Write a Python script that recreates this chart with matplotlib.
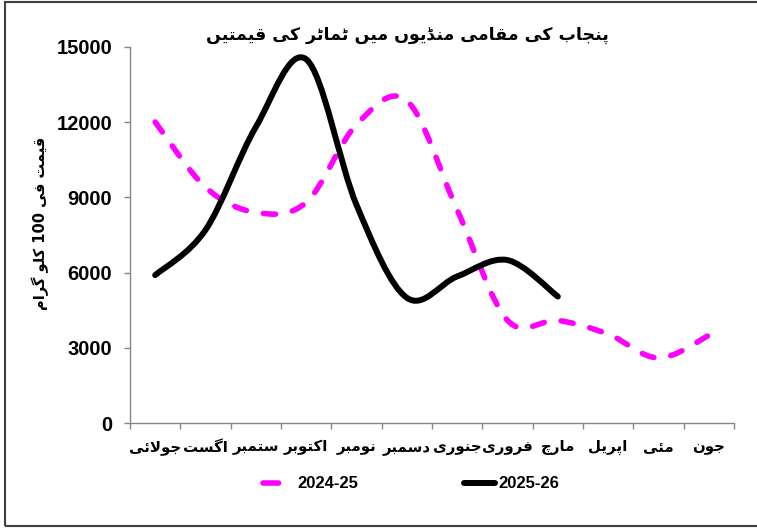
import re
import matplotlib
matplotlib.use("Agg")
import matplotlib.pyplot as plt
from matplotlib.path import Path
from matplotlib.patches import PathPatch, Rectangle
from matplotlib.lines import Line2D

# ---- data -------------------------------------------------------------
title = "پنجاب کی مقامی منڈیوں میں ٹماٹر کی قیمتیں"
y_label = "قیمت فی 100 کلو گرام"
months = ["جولائی", "اگست", "ستمبر", "اکتوبر", "نومبر", "دسمبر",
          "جنوری", "فروری", "مارچ", "اپریل", "مئی", "جون"]
series_names = ["2024-25", "2025-26"]
prices_2024_25 = [12000, 9400, 8400, 8800, 11900, 12850,
                  8500, 4100, 4100, 3550, 2600, 3500]
prices_2025_26 = [5900, 7700, 11800, 14500, 8700, 5000,
                  5850, 6500, 5050]
y_ticks = [0, 3000, 6000, 9000, 12000, 15000]

# ---- minimal Arabic-script shaping (matplotlib has no complex layout) --
FORMS = {  # isolated, final, initial, medial
    "\u0627": ("\uFE8D", "\uFE8E", None, None),
    "\u0628": ("\uFE8F", "\uFE90", "\uFE91", "\uFE92"),
    "\u062A": ("\uFE95", "\uFE96", "\uFE97", "\uFE98"),
    "\u062C": ("\uFE9D", "\uFE9E", "\uFE9F", "\uFEA0"),
    "\u062F": ("\uFEA9", "\uFEAA", None, None),
    "\u0631": ("\uFEAD", "\uFEAE", None, None),
    "\u0633": ("\uFEB1", "\uFEB2", "\uFEB3", "\uFEB4"),
    "\u0641": ("\uFED1", "\uFED2", "\uFED3", "\uFED4"),
    "\u0642": ("\uFED5", "\uFED6", "\uFED7", "\uFED8"),
    "\u0644": ("\uFEDD", "\uFEDE", "\uFEDF", "\uFEE0"),
    "\u0645": ("\uFEE1", "\uFEE2", "\uFEE3", "\uFEE4"),
    "\u0646": ("\uFEE5", "\uFEE6", "\uFEE7", "\uFEE8"),
    "\u0648": ("\uFEED", "\uFEEE", None, None),
    "\u0626": ("\uFE89", "\uFE8A", "\uFE8B", "\uFE8C"),
    "\u067E": ("\uFB56", "\uFB57", "\uFB58", "\uFB59"),
    "\u0679": ("\uFB66", "\uFB67", "\uFB68", "\uFB69"),
    "\u0686": ("\uFB7A", "\uFB7B", "\uFB7C", "\uFB7D"),
    "\u0688": ("\uFB88", "\uFB89", None, None),
    "\u06A9": ("\uFB8E", "\uFB8F", "\uFB90", "\uFB91"),
    "\u06AF": ("\uFB92", "\uFB93", "\uFB94", "\uFB95"),
    "\u06BA": ("\uFB9E", "\uFB9F", "\uFEE7", "\uFEE8"),
    "\u06CC": ("\uFBFC", "\uFBFD", "\uFBFE", "\uFBFF"),
}
LAM, ALEF = "\u0644", "\u0627"


def joins_forward(c):
    return c in FORMS and FORMS[c][2] is not None


def rtl(text):
    out = []
    i, n = 0, len(text)
    while i < n:
        c = text[i]
        if c not in FORMS:
            out.append(c)
            i += 1
            continue
        prev_joins = i > 0 and joins_forward(text[i - 1])
        if c == LAM and i + 1 < n and text[i + 1] == ALEF:
            out.append("\uFEFC" if prev_joins else "\uFEFB")
            i += 2
            continue
        next_joins = joins_forward(c) and i + 1 < n and text[i + 1] in FORMS
        iso, fin, ini, med = FORMS[c]
        if prev_joins and next_joins:
            out.append(med)
        elif prev_joins:
            out.append(fin)
        elif next_joins:
            out.append(ini)
        else:
            out.append(iso)
        i += 1
    visual = "".join(out)[::-1]
    return re.sub(r"[0-9]+", lambda m: m.group()[::-1], visual)


def smooth_path(xs, ys):
    """Cubic Bezier path through the points (Catmull-Rom style tangents)."""
    n = len(xs)
    verts = [(xs[0], ys[0])]
    codes = [Path.MOVETO]
    for i in range(n - 1):
        x0, y0 = xs[max(i - 1, 0)], ys[max(i - 1, 0)]
        x1, y1 = xs[i], ys[i]
        x2, y2 = xs[i + 1], ys[i + 1]
        x3, y3 = xs[min(i + 2, n - 1)], ys[min(i + 2, n - 1)]
        verts += [(x1 + (x2 - x0) / 6, y1 + (y2 - y0) / 6),
                  (x2 - (x3 - x1) / 6, y2 - (y3 - y1) / 6),
                  (x2, y2)]
        codes += [Path.CURVE4] * 3
    return Path(verts, codes)


# ---- figure -----------------------------------------------------------
LATIN = ["Liberation Sans", "DejaVu Sans"]
URDU = ["DejaVu Sans"]
PINK = "#FF00FF"
AXIS_GRAY = "#868686"

W, H = 757, 529
fig = plt.figure(figsize=(W / 100, H / 100), dpi=100)
fig.patch.set_facecolor("white")
ax = fig.add_axes([130 / W, 1 - 423.3 / H, (734 - 130) / W, (423.3 - 46.7) / H])

x_pos = list(range(len(months)))

pink = PathPatch(smooth_path(x_pos, prices_2024_25), fill=False,
                 edgecolor=PINK, linewidth=4.0, linestyle=(0, (2.2, 3.1)),
                 capstyle="round", joinstyle="round", zorder=3)
ax.add_patch(pink)
black = PathPatch(smooth_path(x_pos[:len(prices_2025_26)], prices_2025_26),
                  fill=False, edgecolor="black", linewidth=4.3,
                  capstyle="round", joinstyle="round", zorder=4)
ax.add_patch(black)

ax.set_xlim(-0.5, len(months) - 0.5)
ax.set_ylim(0, 15000)

for side in ("top", "right"):
    ax.spines[side].set_visible(False)
for side in ("left", "bottom"):
    ax.spines[side].set_color(AXIS_GRAY)
    ax.spines[side].set_linewidth(1.0)

ax.set_yticks(y_ticks)
ax.set_yticklabels([str(v) for v in y_ticks], family=LATIN,
                   fontweight="bold", fontsize=14.5)
ax.tick_params(axis="y", direction="out", length=4.3, width=1.0,
               color=AXIS_GRAY, pad=8.5)

ax.set_xticks(x_pos)
ax.set_xticklabels([rtl(m) for m in months], family=URDU,
                   fontweight="bold", fontsize=10.8)
ax.set_xticks([x - 0.5 for x in range(len(months) + 1)], minor=True)
ax.tick_params(axis="x", which="major", length=0, pad=12)
ax.tick_params(axis="x", which="minor", direction="out", length=4.3,
               width=1.0, color=AXIS_GRAY)

fig.text(407 / W, 1 - 35 / H, rtl(title), family=URDU, fontweight="bold",
         fontsize=12.5, ha="center", va="center")
fig.text(40 / W, 1 - 223 / H, rtl(y_label), family=URDU, fontweight="bold",
         fontsize=10.5, ha="center", va="center", rotation=90)

handles = [
    Line2D([], [], color=PINK, linewidth=4.0, linestyle=(0, (2.8, 6.0)),
           dash_capstyle="round"),
    Line2D([], [], color="black", linewidth=4.3, solid_capstyle="round"),
]
fig.legend(handles, series_names, loc="center",
           bbox_to_anchor=(411 / W, 1 - 484 / H), ncol=2, frameon=False,
           prop={"family": LATIN, "weight": "bold", "size": 12},
           handlelength=1.9, handletextpad=0.2, columnspacing=6.3)

# outer chart border
fig.patches.append(Rectangle((4.5 / W, 1 - 525.5 / H), 1.2,
                             (525.5 - 1.5) / H, transform=fig.transFigure,
                             fill=False, edgecolor="#404040", linewidth=1.5))

fig.savefig("out.png", dpi=100, facecolor="white")
